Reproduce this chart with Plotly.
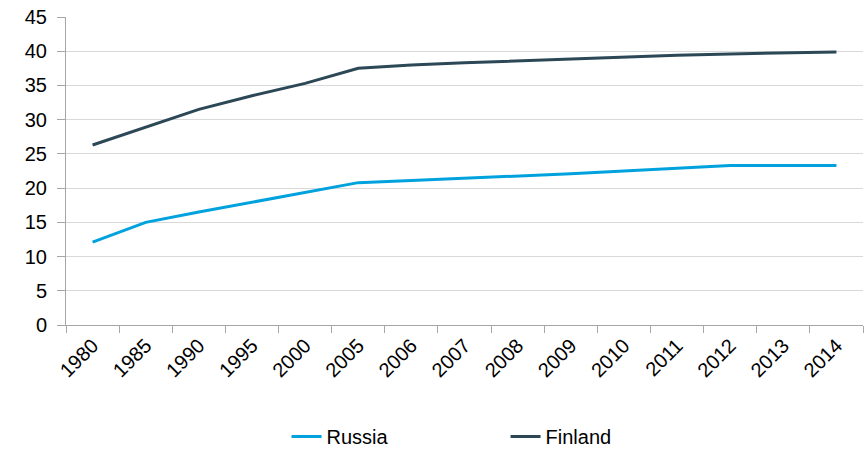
import plotly.graph_objects as go

years = ["1980", "1985", "1990", "1995", "2000", "2005", "2006", "2007",
         "2008", "2009", "2010", "2011", "2012", "2013", "2014"]
russia = [12.1, 15.0, 16.5, 17.9, 19.3, 20.8, 21.1, 21.4, 21.7, 22.1, 22.5, 22.9, 23.3, 23.3, 23.3]
finland = [26.3, 28.9, 31.5, 33.5, 35.3, 37.5, 38.0, 38.3, 38.6, 38.9, 39.1, 39.4, 39.6, 39.8, 39.9]
y_ticks = [0, 5, 10, 15, 20, 25, 30, 35, 40, 45]

fig = go.Figure()
fig.add_trace(go.Scatter(x=years, y=russia, name="Russia", mode="lines",
                         line=dict(color="#00A2DD", width=3)))
fig.add_trace(go.Scatter(x=years, y=finland, name="Finland", mode="lines",
                         line=dict(color="#2C4857", width=3)))

fig.update_layout(
    width=867, height=449,
    margin=dict(l=66, r=4, t=17, b=124, autoexpand=False),
    paper_bgcolor="white", plot_bgcolor="white",
    font=dict(family="Liberation Sans, Arial, sans-serif", size=20, color="#000000"),
    showlegend=True,
    legend=dict(orientation="h", x=0.5515, xanchor="center", y=-0.362, yanchor="middle",
                font=dict(size=20), entrywidth=174, entrywidthmode="pixels",
                bgcolor="rgba(0,0,0,0)"),
    xaxis=dict(type="category", range=[-0.5, 14.5], tickson="boundaries",
               ticks="outside", ticklen=7, tickcolor="#A6A6A6", tickwidth=1,
               showline=True, linecolor="#A6A6A6", linewidth=1,
               showgrid=False, tickangle=-45, tickfont=dict(size=20)),
    yaxis=dict(range=[0, 45], tickvals=y_ticks, ticks="outside", ticklen=8,
               tickcolor="#A6A6A6", showline=True, linecolor="#A6A6A6", linewidth=1,
               showgrid=True, gridcolor="#D9D9D9", gridwidth=1, zeroline=False,
               ticklabelstandoff=6, tickfont=dict(size=20)),
)

fig.write_html("out.html")
